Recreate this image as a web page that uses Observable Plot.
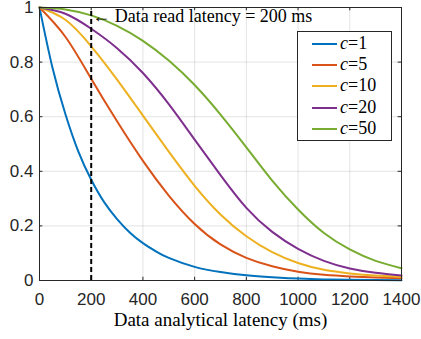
<!DOCTYPE html>
<html>
<head>
<meta charset="utf-8">
<script src="https://cdn.jsdelivr.net/npm/d3@7"></script>
<script src="https://cdn.jsdelivr.net/npm/@observablehq/plot@0.6"></script>
<style>
  html, body { margin: 0; padding: 0; background: #fff; }
  #wrap { position: relative; width: 421px; height: 339px; }
  #legend { position: absolute; left: 297px; top: 31px; width: 95px; height: 110px;
    box-sizing: border-box; border: 1px solid #262626; background: #fff; }
  .lg-line { position: absolute; left: 14px; width: 25px; height: 2px; }
  .lg-text { position: absolute; left: 42px; font-family: "Liberation Serif", "Times New Roman", serif;
    font-size: 18px; color: #000; white-space: nowrap; line-height: 20px; }
</style>
</head>
<body>
<div id="wrap"></div>
<script>
// ---- data ----
const xs = [0, 100, 200, 300, 400, 500, 600, 700, 800, 900, 1000, 1100, 1200, 1300, 1400];
const c1x = [0, 50, 100, 150, 200, 250, 300, 350, 400, 450, 500, 600, 700, 800, 900, 1000, 1100, 1200, 1300, 1400];
const c1  = [1, 0.78, 0.61, 0.473, 0.369, 0.287, 0.225, 0.175, 0.137, 0.107, 0.083, 0.05, 0.031, 0.019, 0.012, 0.007, 0.004, 0.003, 0.002, 0.001];
const c5  = [1, 0.893, 0.739, 0.583, 0.438, 0.311, 0.207, 0.132, 0.083, 0.052, 0.032, 0.021, 0.015, 0.011, 0.008];
const c10 = [1, 0.955, 0.858, 0.736, 0.604, 0.472, 0.347, 0.242, 0.162, 0.104, 0.064, 0.039, 0.026, 0.018, 0.013];
const c20 = [1, 0.977, 0.922, 0.851, 0.76, 0.646, 0.516, 0.386, 0.266, 0.178, 0.116, 0.072, 0.044, 0.028, 0.018];
const c50 = [1, 0.993, 0.971, 0.933, 0.878, 0.806, 0.716, 0.608, 0.488, 0.366, 0.26, 0.174, 0.114, 0.072, 0.045];
const seriesNames = ["1", "5", "10", "20", "50"];
const seriesColors = ["#0072BD", "#D95319", "#EDB120", "#7E2F8E", "#77AC30"];
const xTicks = [0, 200, 400, 600, 800, 1000, 1200, 1400];
const yTicks = [0, 0.2, 0.4, 0.6, 0.8, 1];
const readLatency = 200;
const annotation = "\u2190 Data read latency = 200 ms";
const xLabel = "Data analytical latency (ms)";

// ---- build table ----
const rows = [];
c1x.forEach((x, i) => rows.push({x, y: c1[i], c: "1"}));
[[c5, "5"], [c10, "10"], [c20, "20"], [c50, "50"]].forEach(([arr, c]) =>
  xs.forEach((x, i) => rows.push({x, y: arr[i], c})));

const axisColor = "#262626";
const sans = "'Liberation Sans', Arial, Helvetica, sans-serif";
const serif = "'Liberation Serif', 'Times New Roman', serif";

const chart = Plot.plot({
  width: 421,
  height: 339,
  marginLeft: 39,
  marginRight: 20,
  marginTop: 7,
  marginBottom: 59,
  style: {background: "#fff", overflow: "visible"},
  x: {domain: [0, 1400]},
  y: {domain: [0, 1]},
  color: {domain: seriesNames, range: seriesColors},
  marks: [
    Plot.gridX(xTicks, {stroke: "#000", strokeOpacity: 0.11, strokeWidth: 1}),
    Plot.gridY(yTicks, {stroke: "#000", strokeOpacity: 0.11, strokeWidth: 1}),
    // inward ticks (bottom/top/left/right)
    Plot.ruleX(xTicks, {x: d => d, y1: 0, y2: 0.012, stroke: axisColor}),
    Plot.ruleX(xTicks, {x: d => d, y1: 1, y2: 0.988, stroke: axisColor}),
    Plot.ruleY(yTicks, {y: d => d, x1: 0, x2: 13, stroke: axisColor}),
    Plot.ruleY(yTicks, {y: d => d, x1: 1400, x2: 1387, stroke: axisColor}),
    Plot.axisX(xTicks, {tickSize: 0, tickPadding: 12, fontSize: 17, fontFamily: sans, fill: axisColor, label: null,
      tickFormat: d => String(d)}),
    Plot.axisY(yTicks, {tickSize: 0, tickPadding: 6, fontSize: 17, fontFamily: sans, fill: axisColor, label: null,
      tickFormat: d => String(+d.toFixed(1))}),
    Plot.line(rows, {x: "x", y: "y", z: "c", stroke: "c", strokeWidth: 2, curve: "natural"}),
    Plot.ruleX([readLatency], {x: d => d, y1: 0, y2: 1, stroke: "#000", strokeWidth: 2, strokeDasharray: "5,3"}),
    Plot.text([annotation], {x: readLatency, y: 0.967, text: d => d, textAnchor: "start", dx: 1, lineAnchor: "middle",
      fontFamily: serif, fontSize: 18, fill: "#000"}),
    Plot.text([xLabel], {frameAnchor: "bottom", dy: 39, text: d => d, lineAnchor: "middle",
      fontFamily: serif, fontSize: 19, fill: "#000"}),
    Plot.frame({stroke: axisColor, strokeWidth: 1})
  ]
});

const wrap = document.getElementById("wrap");
wrap.appendChild(chart);

// ---- legend overlay ----
const legend = document.createElement("div");
legend.id = "legend";
const rowTops = [11.6, 33.3, 54.3, 75.6, 96.6];
seriesNames.forEach((name, i) => {
  const line = document.createElement("div");
  line.className = "lg-line";
  line.style.top = (rowTops[i] - 1) + "px";
  line.style.background = seriesColors[i];
  legend.appendChild(line);
  const t = document.createElement("div");
  t.className = "lg-text";
  t.style.top = (rowTops[i] - 10 - 1) + "px";
  t.innerHTML = "<i>c</i>=" + name;
  legend.appendChild(t);
});
wrap.appendChild(legend);
</script>
</body>
</html>
